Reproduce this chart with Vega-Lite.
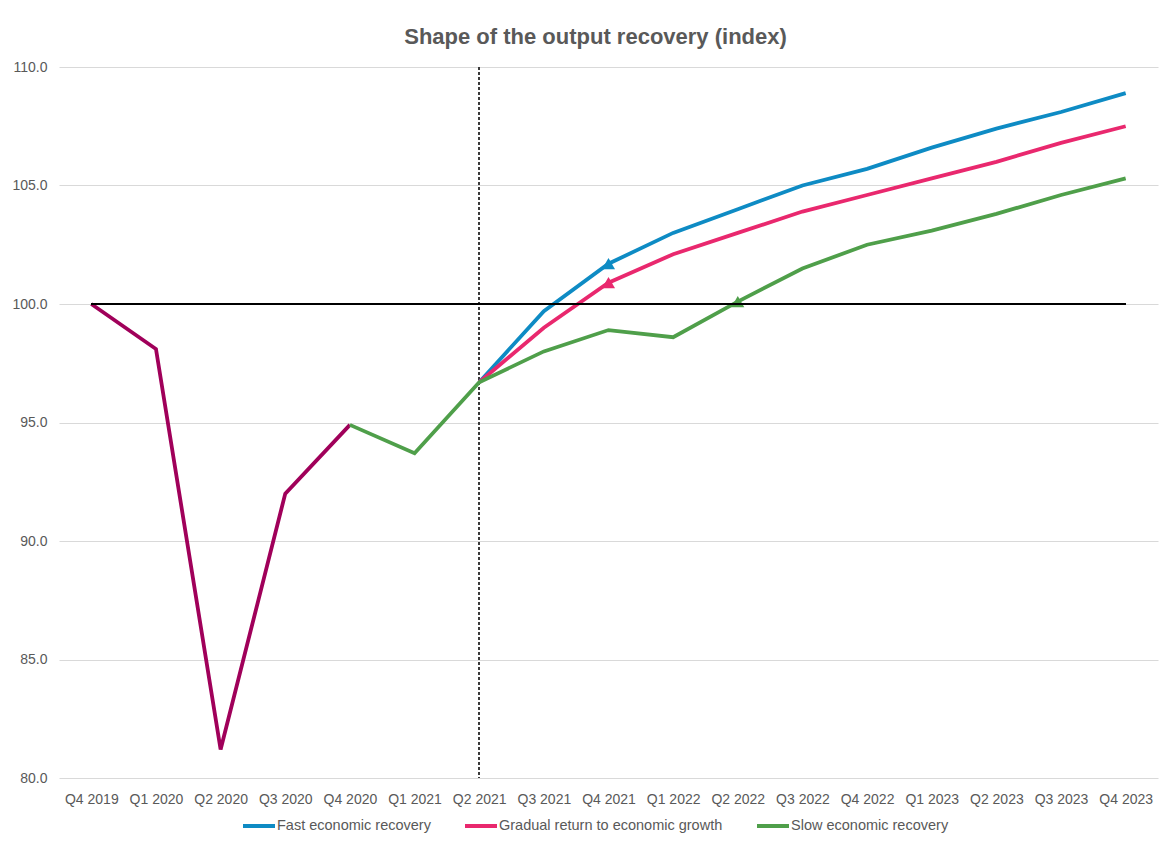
{
  "$schema": "https://vega.github.io/schema/vega-lite/v6.json",
  "width": 1099,
  "height": 711,
  "autosize": {"type": "none"},
  "padding": {"left": 59, "top": 67, "right": 15, "bottom": 70},
  "background": "white",
  "title": {
    "text": "Shape of the output recovery (index)",
    "fontSize": 22,
    "fontWeight": "bold",
    "color": "#595959",
    "font": "Liberation Sans",
    "anchor": "middle",
    "dx": -13,
    "offset": -6,
    "baseline": "alphabetic"
  },
  "data": {
    "values": [
      {"quarter": "Q4 2019", "series": "History", "value": 100.0, "marker": false},
      {"quarter": "Q1 2020", "series": "History", "value": 98.1, "marker": false},
      {"quarter": "Q2 2020", "series": "History", "value": 81.2, "marker": false},
      {"quarter": "Q3 2020", "series": "History", "value": 92.0, "marker": false},
      {"quarter": "Q4 2020", "series": "History", "value": 94.9, "marker": false},
      {"quarter": "Q2 2021", "series": "Fast economic recovery", "value": 96.7, "marker": false},
      {"quarter": "Q3 2021", "series": "Fast economic recovery", "value": 99.7, "marker": false},
      {"quarter": "Q4 2021", "series": "Fast economic recovery", "value": 101.7, "marker": true},
      {"quarter": "Q1 2022", "series": "Fast economic recovery", "value": 103.0, "marker": false},
      {"quarter": "Q2 2022", "series": "Fast economic recovery", "value": 104.0, "marker": false},
      {"quarter": "Q3 2022", "series": "Fast economic recovery", "value": 105.0, "marker": false},
      {"quarter": "Q4 2022", "series": "Fast economic recovery", "value": 105.7, "marker": false},
      {"quarter": "Q1 2023", "series": "Fast economic recovery", "value": 106.6, "marker": false},
      {"quarter": "Q2 2023", "series": "Fast economic recovery", "value": 107.4, "marker": false},
      {"quarter": "Q3 2023", "series": "Fast economic recovery", "value": 108.1, "marker": false},
      {"quarter": "Q4 2023", "series": "Fast economic recovery", "value": 108.9, "marker": false},
      {"quarter": "Q2 2021", "series": "Gradual return to economic growth", "value": 96.7, "marker": false},
      {"quarter": "Q3 2021", "series": "Gradual return to economic growth", "value": 99.0, "marker": false},
      {"quarter": "Q4 2021", "series": "Gradual return to economic growth", "value": 100.9, "marker": true},
      {"quarter": "Q1 2022", "series": "Gradual return to economic growth", "value": 102.1, "marker": false},
      {"quarter": "Q2 2022", "series": "Gradual return to economic growth", "value": 103.0, "marker": false},
      {"quarter": "Q3 2022", "series": "Gradual return to economic growth", "value": 103.9, "marker": false},
      {"quarter": "Q4 2022", "series": "Gradual return to economic growth", "value": 104.6, "marker": false},
      {"quarter": "Q1 2023", "series": "Gradual return to economic growth", "value": 105.3, "marker": false},
      {"quarter": "Q2 2023", "series": "Gradual return to economic growth", "value": 106.0, "marker": false},
      {"quarter": "Q3 2023", "series": "Gradual return to economic growth", "value": 106.8, "marker": false},
      {"quarter": "Q4 2023", "series": "Gradual return to economic growth", "value": 107.5, "marker": false},
      {"quarter": "Q4 2020", "series": "Slow economic recovery", "value": 94.9, "marker": false},
      {"quarter": "Q1 2021", "series": "Slow economic recovery", "value": 93.7, "marker": false},
      {"quarter": "Q2 2021", "series": "Slow economic recovery", "value": 96.7, "marker": false},
      {"quarter": "Q3 2021", "series": "Slow economic recovery", "value": 98.0, "marker": false},
      {"quarter": "Q4 2021", "series": "Slow economic recovery", "value": 98.9, "marker": false},
      {"quarter": "Q1 2022", "series": "Slow economic recovery", "value": 98.6, "marker": false},
      {"quarter": "Q2 2022", "series": "Slow economic recovery", "value": 100.1, "marker": true},
      {"quarter": "Q3 2022", "series": "Slow economic recovery", "value": 101.5, "marker": false},
      {"quarter": "Q4 2022", "series": "Slow economic recovery", "value": 102.5, "marker": false},
      {"quarter": "Q1 2023", "series": "Slow economic recovery", "value": 103.1, "marker": false},
      {"quarter": "Q2 2023", "series": "Slow economic recovery", "value": 103.8, "marker": false},
      {"quarter": "Q3 2023", "series": "Slow economic recovery", "value": 104.6, "marker": false},
      {"quarter": "Q4 2023", "series": "Slow economic recovery", "value": 105.3, "marker": false}
    ]
  },
  "layer": [
    {
      "mark": {"type": "rule", "color": "#3a3a3a", "strokeWidth": 1, "strokeDash": [3, 2]},
      "encoding": {
        "x": {"datum": "Q2 2021", "type": "ordinal"}
      }
    },
    {
      "transform": [{"filter": "datum.series === 'History'"}],
      "mark": {"type": "line", "color": "#a0005a", "strokeWidth": 3.8, "strokeJoin": "miter", "strokeCap": "butt"},
      "encoding": {
        "x": {
          "field": "quarter",
          "type": "ordinal",
          "sort": null,
          "title": null,
          "scale": {
            "type": "point",
            "padding": 0.5,
            "domain": ["Q4 2019", "Q1 2020", "Q2 2020", "Q3 2020", "Q4 2020", "Q1 2021", "Q2 2021", "Q3 2021", "Q4 2021", "Q1 2022", "Q2 2022", "Q3 2022", "Q4 2022", "Q1 2023", "Q2 2023", "Q3 2023", "Q4 2023"]
          }
        },
        "y": {
          "field": "value",
          "type": "quantitative",
          "title": null,
          "scale": {"domain": [80, 110], "zero": false, "nice": false},
          "axis": {"values": [80, 85, 90, 95, 100, 105, 110], "format": ".1f"}
        }
      }
    },
    {
      "transform": [{"filter": "datum.series !== 'History'"}],
      "mark": {"type": "line", "strokeWidth": 3.8, "strokeJoin": "miter", "strokeCap": "butt"},
      "encoding": {
        "x": {"field": "quarter", "type": "ordinal", "sort": null, "title": null},
        "y": {"field": "value", "type": "quantitative", "title": null},
        "color": {
          "field": "series",
          "type": "nominal",
          "scale": {
            "domain": ["Fast economic recovery", "Gradual return to economic growth", "Slow economic recovery"],
            "range": ["#0e8bc4", "#e9286e", "#4f9f4a"]
          },
          "legend": {
            "orient": "none",
            "legendX": 182,
            "legendY": 741,
            "direction": "horizontal",
            "title": null,
            "symbolType": "stroke",
            "symbolSize": 1024,
            "symbolStrokeWidth": 4,
            "labelFont": "Liberation Sans",
            "labelFontSize": 14.5,
            "labelColor": "#595959",
            "labelOffset": 0,
            "columnPadding": 26,
            "labelLimit": 400
          }
        }
      }
    },
    {
      "transform": [{"filter": "datum.marker"}],
      "mark": {"type": "point", "shape": "triangle-up", "filled": true, "opacity": 1, "size": 170},
      "encoding": {
        "x": {"field": "quarter", "type": "ordinal", "sort": null, "title": null},
        "y": {"field": "value", "type": "quantitative", "title": null},
        "color": {"field": "series", "type": "nominal", "legend": null}
      }
    },
    {
      "mark": {"type": "rule", "color": "#000000", "strokeWidth": 1},
      "encoding": {
        "x": {"datum": "Q4 2019", "type": "ordinal"},
        "x2": {"datum": "Q4 2023"},
        "y": {"datum": 100, "type": "quantitative"}
      }
    }
  ],
  "config": {
    "view": {"stroke": null},
    "font": "Liberation Sans",
    "axis": {
      "labelFont": "Liberation Sans",
      "labelFontSize": 14,
      "labelColor": "#595959",
      "domain": false,
      "ticks": false
    },
    "axisX": {"grid": false, "labelPadding": 14, "labelAngle": 0},
    "axisY": {
      "grid": true,
      "gridColor": "#d9d9d9",
      "gridWidth": 1,
      "labelPadding": 12
    }
  }
}
